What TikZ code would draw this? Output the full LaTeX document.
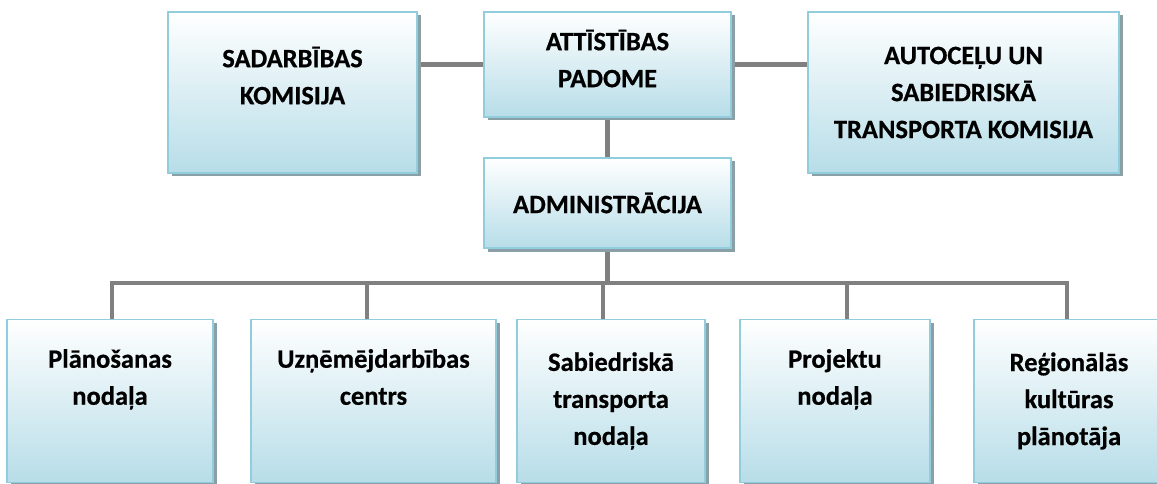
\documentclass[tikz,border=0pt]{standalone}
\usepackage{fontspec}
\setmainfont{Carlito}[BoldFeatures={FakeBold=0.6}]
\usetikzlibrary{shadows,backgrounds}
\definecolor{unitedge}{RGB}{146,205,221}
\definecolor{unitfill}{RGB}{183,221,232}
\definecolor{unitshade}{RGB}{138,160,166}
\definecolor{linkgray}{RGB}{128,128,128}
\begin{document}
\begin{tikzpicture}[x=1pt, y=-1pt,
  unit/.style={draw=unitedge, line width=1.8pt, top color=white, bottom color=unitfill,
    align=center, inner sep=0pt, font=\fontsize{26.5}{37}\selectfont\bfseries,
    general shadow={fill=unitshade, shadow xshift=3.5pt, shadow yshift=-3.5pt}},
  link/.style={draw=linkgray, line width=4.8pt, line cap=rect}]
\useasboundingbox (0,0) rectangle (1157,484);

% top row
\node[unit, minimum width=249pt, minimum height=161pt, text depth=34pt] (sadarb) at (292.5, 92.5) {SADARBĪBAS\\KOMISIJA};
\node[unit, minimum width=247pt, minimum height=105pt, text depth=12pt] (attist) at (607.5, 64.5) {ATTĪSTĪBAS\\PADOME};
\node[unit, minimum width=311pt, minimum height=161pt] (autoc)  at (963.5, 92.5) {AUTOCEĻU UN\\SABIEDRISKĀ\\TRANSPORTA KOMISIJA};
\node[unit, minimum width=247pt, minimum height=90pt]  (admin)  at (607.5, 203)  {ADMINISTRĀCIJA};

% departments
\node[unit, minimum width=206pt, minimum height=163pt] (plan) at (110, 401)   {Plānošanas\\nodaļa\\\strut};
\node[unit, minimum width=245pt, minimum height=163pt] (uzn)  at (373.5, 401) {Uzņēmējdarbības\\centrs\\\strut};
\node[unit, minimum width=188pt, minimum height=163pt] (sab)  at (611, 401)   {Sabiedriskā\\transporta\\nodaļa};
\node[unit, minimum width=190pt, minimum height=163pt] (proj) at (835, 401)   {Projektu\\nodaļa\\\strut};
\node[unit, minimum width=190pt, minimum height=163pt] (reg)  at (1069, 401)  {Reģionālās\\kultūras\\plānotāja};

%%%%%%%%%%%%%%%%%%%%%%%%%%%%%%%%%%%%%%%%

\begin{scope}[on background layer]
\coordinate (busL) at (112, 283);
\coordinate (busR) at (1067, 283);
\draw[link] (attist) -- (sadarb.east |- attist);
\draw[link] (attist) -- (autoc.west |- attist);
\draw[link] (attist) -- (admin);
\draw[link] (admin) -- (admin |- busL);
\draw[link] (busL) -- (busR);
\foreach \unitname/\dropx in {plan/112, uzn/367, sab/603, proj/847, reg/1067}
  \draw[link] (\dropx,283) -- (\dropx,283 |- \unitname.north);
\end{scope}
\end{tikzpicture}
\end{document}
